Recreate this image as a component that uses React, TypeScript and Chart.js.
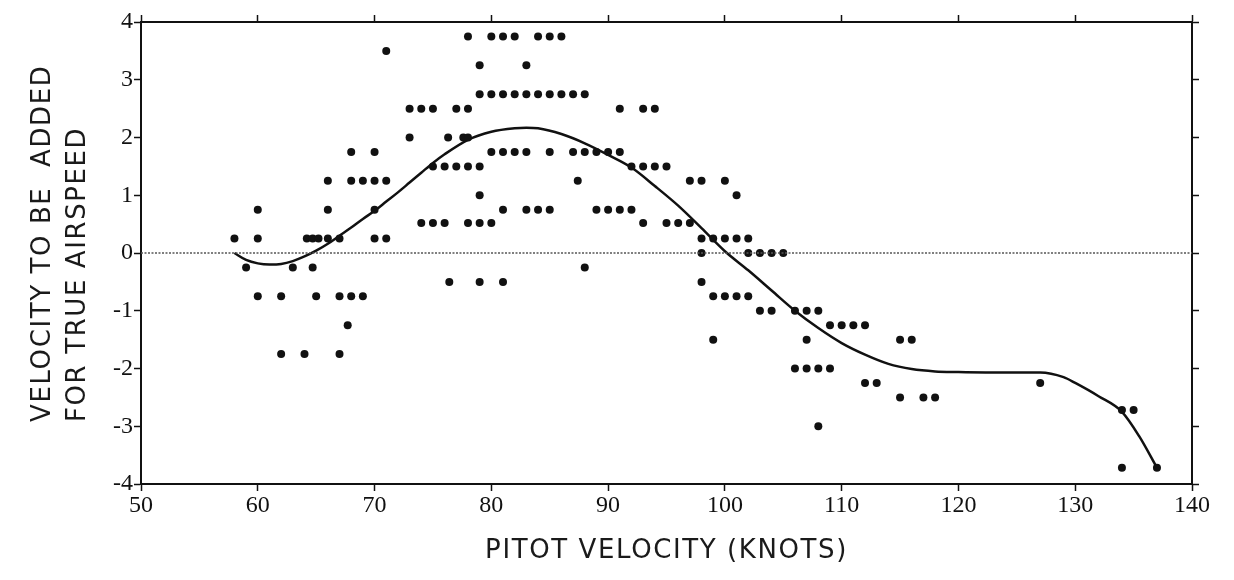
import { useEffect, useRef } from "react";
import { Chart, registerables } from "chart.js";

Chart.register(...registerables);

// Axis ranges / ticks
const xMin = 50;
const xMax = 140;
const xStep = 10;
const yMin = -4;
const yMax = 4;
const yStep = 1;

// Observed points (pitot velocity, correction)
const obsX = [
  78, 80, 81, 82, 84, 85, 86,
  71,
  79, 83,
  79, 80, 81, 82, 83, 84, 85, 86, 87, 88,
  73, 74, 75, 77, 78, 91, 93, 94,
  73, 76.3, 77.6, 78,
  68, 70, 80, 81, 82, 83, 85, 87, 88, 89, 90, 91,
  75, 76, 77, 78, 79, 92, 93, 94, 95,
  66, 68, 69, 70, 71, 87.4, 97, 98, 100,
  79, 101,
  60, 66, 70, 81, 83, 84, 85, 89, 90, 91, 92,
  74, 75, 76, 78, 79, 80, 93, 95, 96, 97,
  58, 60, 64.2, 64.7, 65.2, 66, 67, 70, 71, 98, 99, 100, 101, 102,
  98, 102, 103, 104, 105,
  59, 63, 64.7, 88,
  76.4, 79, 81, 98,
  60, 62, 65, 67, 68, 69, 99, 100, 101, 102,
  103, 104, 106, 107, 108,
  67.7, 109, 110, 111, 112,
  99, 107, 115, 116,
  62, 64, 67,
  106, 107, 108, 109,
  112, 113, 127,
  115, 117, 118,
  134, 135,
  108,
  134, 137,
];
const obsY = [
  3.75, 3.75, 3.75, 3.75, 3.75, 3.75, 3.75,
  3.5,
  3.25, 3.25,
  2.75, 2.75, 2.75, 2.75, 2.75, 2.75, 2.75, 2.75, 2.75, 2.75,
  2.5, 2.5, 2.5, 2.5, 2.5, 2.5, 2.5, 2.5,
  2.0, 2.0, 2.0, 2.0,
  1.75, 1.75, 1.75, 1.75, 1.75, 1.75, 1.75, 1.75, 1.75, 1.75, 1.75, 1.75,
  1.5, 1.5, 1.5, 1.5, 1.5, 1.5, 1.5, 1.5, 1.5,
  1.25, 1.25, 1.25, 1.25, 1.25, 1.25, 1.25, 1.25, 1.25,
  1.0, 1.0,
  0.75, 0.75, 0.75, 0.75, 0.75, 0.75, 0.75, 0.75, 0.75, 0.75, 0.75,
  0.52, 0.52, 0.52, 0.52, 0.52, 0.52, 0.52, 0.52, 0.52, 0.52,
  0.25, 0.25, 0.25, 0.25, 0.25, 0.25, 0.25, 0.25, 0.25, 0.25, 0.25, 0.25, 0.25, 0.25,
  0, 0, 0, 0, 0,
  -0.25, -0.25, -0.25, -0.25,
  -0.5, -0.5, -0.5, -0.5,
  -0.75, -0.75, -0.75, -0.75, -0.75, -0.75, -0.75, -0.75, -0.75, -0.75,
  -1.0, -1.0, -1.0, -1.0, -1.0,
  -1.25, -1.25, -1.25, -1.25, -1.25,
  -1.5, -1.5, -1.5, -1.5,
  -1.75, -1.75, -1.75,
  -2.0, -2.0, -2.0, -2.0,
  -2.25, -2.25, -2.25,
  -2.5, -2.5, -2.5,
  -2.72, -2.72,
  -3.0,
  -3.72, -3.72,
];

// Fitted curve
const curveX = [
  58, 59, 60, 61, 62, 63, 64, 65, 66, 67, 68, 69, 70, 71, 72, 73, 74, 75, 76,
  78, 80, 82, 83, 84, 86, 88, 90, 92, 94, 96, 98, 100, 102, 104, 106, 108,
  110, 112, 114, 116, 118, 120, 124, 127, 129, 130, 132, 134, 135.5, 137,
];
const curveY = [
  0.0, -0.12, -0.18, -0.2, -0.19, -0.14, -0.06, 0.04, 0.16, 0.3, 0.44, 0.59,
  0.73, 0.89, 1.05, 1.22, 1.39, 1.56, 1.71, 1.96, 2.1, 2.16, 2.17, 2.16, 2.06,
  1.9, 1.7, 1.48, 1.16, 0.82, 0.43, 0.03, -0.3, -0.65, -1.0, -1.3, -1.56,
  -1.76, -1.92, -2.01, -2.05, -2.06, -2.07, -2.07, -2.15, -2.25, -2.48, -2.75,
  -3.18, -3.72,
];

// Zero reference line
const zeroX = [50, 140];
const zeroY = [0, 0];

const xTitle = "PITOT VELOCITY (KNOTS)";
const yTitleLines = ["VELOCITY TO BE  ADDED", "FOR TRUE AIRSPEED"];

const titlePlugin = {
  id: "axisTitlesCustom",
  afterDraw(chart: any) {
    const ctx = chart.ctx as CanvasRenderingContext2D;
    const { left, right, bottom } = chart.chartArea;
    ctx.save();
    ctx.fillStyle = "#1a1a1a";
    ctx.font = '26px "DejaVu Sans"';
    (ctx as any).letterSpacing = "1.6px";
    ctx.textBaseline = "middle";
    ctx.textAlign = "center";
    ctx.fillText(xTitle, (left + right) / 2, bottom + 67);
    const lineX = [left - 98, left - 63];
    yTitleLines.forEach((line, i) => {
      ctx.save();
      ctx.translate(lineX[i], bottom - 62);
      ctx.rotate(-Math.PI / 2);
      ctx.textAlign = "left";
      ctx.fillText(line, 0, 0);
      ctx.restore();
    });
    ctx.restore();
  },
};

export default function App() {
  const ref = useRef<HTMLCanvasElement | null>(null);

  useEffect(() => {
    if (!ref.current) return;
    const obs = obsX.map((x, i) => ({ x, y: obsY[i] }));
    const curve = curveX.map((x, i) => ({ x, y: curveY[i] }));
    const zero = zeroX.map((x, i) => ({ x, y: zeroY[i] }));

    const tickFont = { family: '"Liberation Serif", "Times New Roman", serif', size: 24 };
    const axisCommon = () => ({
      border: { display: true, color: "#111", width: 2 },
      grid: {
        drawOnChartArea: false,
        drawTicks: true,
        tickLength: 7,
        tickColor: "#111",
        tickWidth: 1.5,
      },
    });

    const chart = new Chart(ref.current, {
      type: "scatter",
      data: {
        datasets: [
          {
            label: "zero",
            data: zero,
            showLine: true,
            borderColor: "#555",
            borderWidth: 1.5,
            borderDash: [2, 1.5],
            pointRadius: 0,
            xAxisID: "x",
            yAxisID: "y",
          },
          {
            label: "observed",
            data: obs,
            showLine: false,
            pointRadius: 4,
            pointBackgroundColor: "#111",
            pointBorderWidth: 0,
            xAxisID: "x",
            yAxisID: "y",
          },
          {
            label: "fit",
            data: curve,
            showLine: true,
            borderColor: "#111",
            borderWidth: 2.5,
            pointRadius: 0,
            cubicInterpolationMode: "monotone",
            xAxisID: "x",
            yAxisID: "y",
          },
        ],
      },
      options: {
        responsive: false,
        animation: false,
        devicePixelRatio: 1,
        layout: { padding: 0 },
        plugins: {
          legend: { display: false },
          tooltip: { enabled: false },
          title: { display: false },
        },
        scales: {
          x: {
            type: "linear",
            position: "bottom",
            min: xMin,
            max: xMax,
            ...axisCommon(),
            ticks: { stepSize: xStep, font: tickFont, color: "#111", padding: 0, maxRotation: 0 },
            afterFit: (s: any) => {
              s.height = 96;
            },
          },
          x2: {
            type: "linear",
            position: "top",
            min: xMin,
            max: xMax,
            ...axisCommon(),
            ticks: { stepSize: xStep, display: false },
            afterFit: (s: any) => {
              s.height = 22;
            },
          },
          y: {
            type: "linear",
            position: "left",
            min: yMin,
            max: yMax,
            ...axisCommon(),
            ticks: { stepSize: yStep, font: tickFont, color: "#111", padding: 1 },
            afterFit: (s: any) => {
              s.width = 141;
            },
          },
          y2: {
            type: "linear",
            position: "right",
            min: yMin,
            max: yMax,
            ...axisCommon(),
            ticks: { stepSize: yStep, display: false },
            afterFit: (s: any) => {
              s.width = 42;
            },
          },
        },
      } as any,
      plugins: [titlePlugin],
    });
    return () => chart.destroy();
  }, []);

  return (
    <div
      style={{
        position: "fixed",
        left: 0,
        top: 0,
        width: 1234,
        height: 580,
        background: "#fff",
      }}
    >
      <canvas ref={ref} width={1234} height={580} />
    </div>
  );
}
